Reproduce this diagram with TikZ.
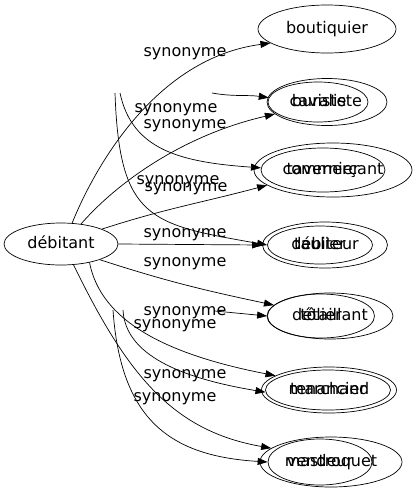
\documentclass[tikz,border=0pt]{standalone}
\usepackage{fontspec}
\setmainfont{DejaVu Sans}
\usetikzlibrary{arrows.meta,shapes,positioning}
\tikzset{
  word/.style={
    draw,
    shape=ellipse,
    inner sep=0pt,
    text height=11.5pt,
    text depth=3.5pt,
    font=\fontsize{16}{19}\selectfont
  },
  rel/.style={
    inner sep=0pt,
    text height=11.5pt,
    text depth=3.5pt,
    font=\fontsize{16}{19}\selectfont
  }
}

\begin{document}
\begin{tikzpicture}[x=1pt,y=-1pt,>={Triangle[length=10pt,width=7pt]},line width=0.7pt]
    \useasboundingbox (0,0) rectangle (416,491);
    \path{
      node[word,minimum width=114pt,minimum height=42pt] (deb) at (61,244) {débitant}
      node[word,minimum width=138pt,minimum height=48pt] (bout) at (327,29) {boutiquier}
      node[word,minimum width=120pt,minimum height=47pt] (bur) at (327,102) {buraliste}
      node[word,minimum width=100pt,minimum height=40pt] (cav) at (318,102) {caviste}
      node[word,minimum width=158pt,minimum height=54pt] (com) at (333,170) {commerçant}
      node[word,minimum width=124pt,minimum height=44pt] (tav) at (323,170) {tavernier}
      node[word,minimum width=125pt,minimum height=46pt] (debr) at (325,245) {débiteur}
      node[word,minimum width=105pt,minimum height=38pt] (taul) at (320,245) {taulier}
      node[word,minimum width=126pt,minimum height=46pt] (det) at (330,316) {détaillant}
      node[word,minimum width=107pt,minimum height=44pt] (tol) at (321,316) {tôlier}
      node[word,minimum width=135pt,minimum height=46pt] (mar) at (329,390) {marchand}
      node[word,minimum width=125pt,minimum height=40pt] (ten) at (328,390) {tenancier}
      node[word,minimum width=142pt,minimum height=50pt] (mas) at (331,462) {mastroquet}
      node[word,minimum width=104pt,minimum height=46pt] (ven) at (320,462) {vendeur}
      coordinate (f1) at (212,93)
      coordinate (f2) at (120,93)
      coordinate (f3) at (115,93)
      coordinate (f4) at (215,311)
      coordinate (f5) at (123,310)
      coordinate (f6) at (113,310)
    };

    \path[every edge/.append style={->}]{
      (deb.62) edge[out=68,in=187.5,out distance=62pt,in distance=115pt] (bout.194)
      (deb.45) edge[out=49,in=193,out distance=52pt,in distance=97pt] (bur.193)
      (f1) edge[out=350,in=172] (cav.175)
      (deb.20) edge[out=18,in=195] (com.193)
      (f2) edge[out=282,in=176,out distance=58pt,in distance=81pt] (tav.178)
      (deb.east) edge (debr.west)
      (f3) edge[out=272,in=170,out distance=127pt,in distance=119pt] (taul.west)
      (deb.338) edge[out=342,in=168] (det.169)
      (f4) edge (tol.west)
      (deb.327) edge[out=281,in=169,out distance=59pt,in distance=113pt] (mar.165)
      (f5) edge[out=273,in=170.6,out distance=40pt,in distance=98pt] (ten.182)
      (deb.301) edge[out=296,in=170,out distance=123pt,in distance=100pt] (mas.167)
      (f6) edge[out=274,in=176.5,out distance=110pt,in distance=98pt] (ven.west)
    };

    \path{
      node[rel] (s1) at (185,52) {synonyme}
      node[rel] (s2) at (176,108) {synonyme}
      node[rel] (s3) at (185,124) {synonyme}
      node[rel] (s4) at (178,180) {synonyme}
      node[rel] (s5) at (186,187) {synonyme}
      node[rel] (s6) at (185,233) {synonyme}
      node[rel] (s7) at (185,262) {synonyme}
      node[rel] (s8) at (185,311) {synonyme}
      node[rel] (s9) at (175,324) {synonyme}
      node[rel] (s10) at (185,374) {synonyme}
      node[rel] (s11) at (175,397) {synonyme}
    };
  \end{tikzpicture}
\end{document}
